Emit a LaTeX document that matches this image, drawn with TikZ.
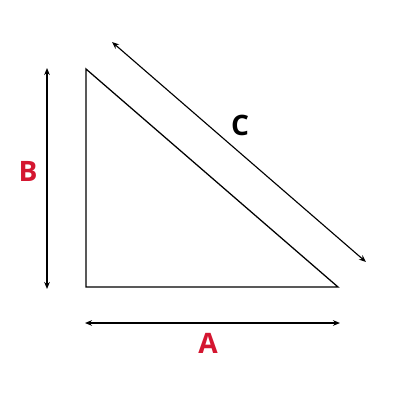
\documentclass[tikz,border=0pt]{standalone}
\usepackage{fontspec}
\setsansfont{Open Sans}
\usetikzlibrary{arrows.meta}
\definecolor{labelred}{RGB}{212,22,48}
\tikzset{
	side/.style={line width=0.9pt},
	measure/.style={line width=0.8pt, {Stealth[length=5pt,width=4pt]}-{Stealth[length=5pt,width=4pt]}},
	sidelabel/.style={font=\sffamily\bfseries\fontsize{20}{24}\selectfont, inner sep=0pt}
}
\begin{document}
\begin{tikzpicture}[x=0.025cm, y=-0.025cm]
			\useasboundingbox (0,0) rectangle (400,400);
			
			\coordinate (top) at (86,69);
			\coordinate (corner) at (86,287);
			\coordinate (right) at (338,287);
			\path[draw,side] (top)--(corner)--(right)--cycle;
			
			\coordinate (b1) at (47,68);
			\coordinate (b2) at (47,289);
			\coordinate (a1) at (85,323);
			\coordinate (a2) at (340,323);
			\coordinate (c1) at (112,42);
			\coordinate (c2) at (366,262);
			\path[draw,measure] (b1)--(b2);
			\path[draw,measure] (a1)--(a2);
			\path[draw,measure] (c1)--(c2);
			
			\node[sidelabel, text=labelred] (lb) at (28,171) {B};
			\node[sidelabel, text=labelred] (la) at (208,343) {A};
			\node[sidelabel] (lc) at (240,125) {C};
			\end{tikzpicture}
\end{document}
